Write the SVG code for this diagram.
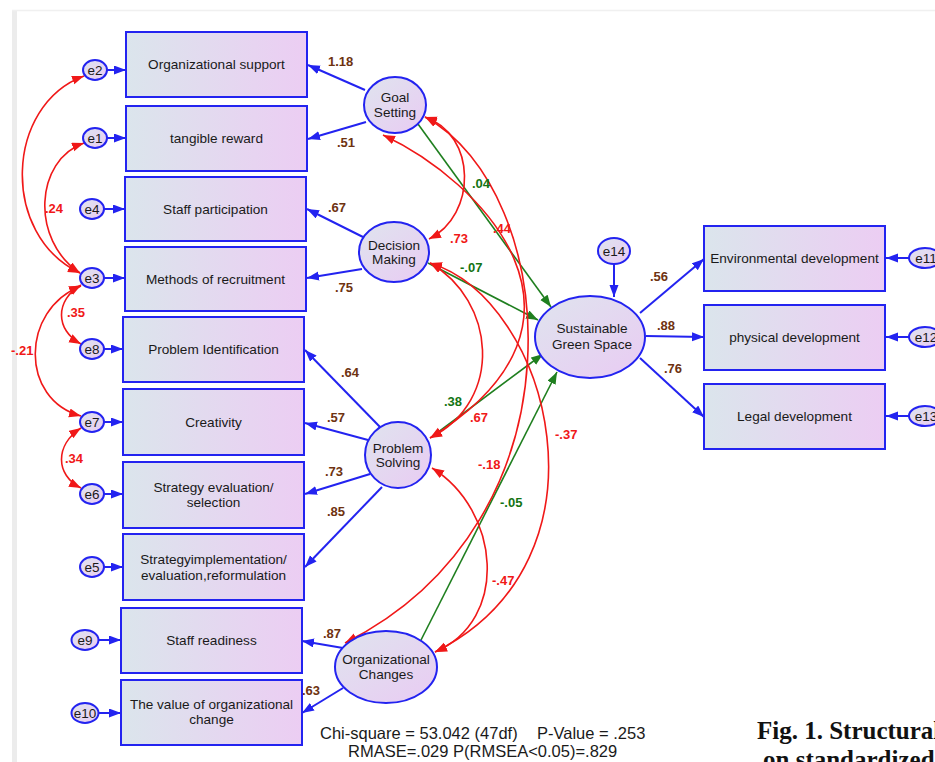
<svg xmlns="http://www.w3.org/2000/svg" width="935" height="762" viewBox="0 0 935 762">
<style>
.bx{stroke:#2323f0;stroke-width:2;fill:url(#gb)}
.lv{stroke:#2323f0;stroke-width:2;fill:url(#ge)}
.er{stroke:#2323f0;stroke-width:2;fill:url(#ge)}
.t{font-family:"Liberation Sans",Arial,sans-serif;font-size:13.6px;fill:#1a1a1a;text-anchor:middle}
.te{font-family:"Liberation Sans",Arial,sans-serif;font-size:13.5px;fill:#1a1a1a;text-anchor:middle}
.lb{font-family:"Liberation Sans",Arial,sans-serif;font-size:13px;font-weight:bold;fill:#6e3210}
.lr{font-family:"Liberation Sans",Arial,sans-serif;font-size:13px;font-weight:bold;fill:#f01818}
.lg{font-family:"Liberation Sans",Arial,sans-serif;font-size:13px;font-weight:bold;fill:#137413}
.pb{stroke:#2323f0;stroke-width:2;fill:none;marker-end:url(#ab)}
.pg{stroke:#1f7f1f;stroke-width:1.6;fill:none;marker-end:url(#ag)}
.pr{stroke:#f01818;stroke-width:1.6;fill:none;marker-start:url(#ar);marker-end:url(#ar)}
.ft{font-family:"Liberation Sans",Arial,sans-serif;font-size:16.5px;fill:#1a1a1a}
.fig{font-family:"Liberation Serif","Times New Roman",serif;font-size:25px;font-weight:bold;fill:#111}
</style>
<defs>
<linearGradient id="gb" x1="0" y1="0" x2="1" y2="0">
<stop offset="0" stop-color="#dbe5ec"/>
<stop offset="1" stop-color="#eccdf3"/>
</linearGradient>
<linearGradient id="ge" x1="0" y1="0" x2="1" y2="1">
<stop offset="0" stop-color="#dfe4ee"/>
<stop offset="1" stop-color="#e9cbf3"/>
</linearGradient>
<marker id="ab" markerUnits="userSpaceOnUse" markerWidth="13" markerHeight="10" refX="12" refY="4.5" orient="auto">
<path d="M0,0 L12,4.5 L0,9 z" fill="#2323f0"/>
</marker>
<marker id="ag" markerUnits="userSpaceOnUse" markerWidth="13" markerHeight="10" refX="12" refY="4.5" orient="auto">
<path d="M0,0 L12,4.5 L0,9 z" fill="#1f7f1f"/>
</marker>
<marker id="ar" markerUnits="userSpaceOnUse" markerWidth="13" markerHeight="10" refX="12" refY="4.5" orient="auto-start-reverse">
<path d="M0,0 L12,4.5 L0,9 z" fill="#f01818"/>
</marker>
</defs>
<rect x="0" y="0" width="935" height="762" fill="#ffffff"/>
<rect x="12" y="10" width="5" height="752" fill="#ececec"/>
<line x1="12" y1="10.5" x2="935" y2="10.5" stroke="#f0f0f0" stroke-width="1.5"/>

<g id="connectors">
<path class="pb" d="M107,70 L126,70"/>
<path class="pb" d="M107,138 L126,138"/>
<path class="pb" d="M104,209 L125,209"/>
<path class="pb" d="M104,278 L125,278"/>
<path class="pb" d="M104,349 L123,349"/>
<path class="pb" d="M104,422 L123,422"/>
<path class="pb" d="M104,494 L123,494"/>
<path class="pb" d="M104,567 L123,567"/>
<path class="pb" d="M99,640 L121,640"/>
<path class="pb" d="M99,713 L121,713"/>
<path class="pb" d="M909,258 L886,258"/>
<path class="pb" d="M909,337 L886,337"/>
<path class="pb" d="M909,416 L886,416"/>
<path class="pb" d="M614,264 L614,297"/>
<path class="pb" d="M365,90 L308,65"/>
<path class="pb" d="M366,122 L308,139"/>
<path class="pb" d="M363,237 L307,209"/>
<path class="pb" d="M362,269 L307,278"/>
<path class="pb" d="M380,427 L305,350"/>
<path class="pb" d="M368,440 L305,423"/>
<path class="pb" d="M370,474 L305,494"/>
<path class="pb" d="M382,487 L305,567"/>
<path class="pb" d="M343,648 L302,641"/>
<path class="pb" d="M343,688 L302,713"/>
<path class="pb" d="M640,313 L704,259"/>
<path class="pb" d="M646,336 L704,337"/>
<path class="pb" d="M640,358 L704,417"/>
<path class="pg" d="M418,124 L551,307"/>
<path class="pg" d="M428,263 L538,320"/>
<path class="pg" d="M433,436 L543,354"/>
<path class="pg" d="M420,642 L557,372"/>
<path class="pr" d="M425,117 C477,135 477,215 429,239"/>
<path class="pr" d="M383,135 C480,180 620,320 430,438"/>
<path class="pr" d="M430,263 C495,300 505,400 430,438"/>
<path class="pr" d="M425,117 C560,190 590,520 345,643"/>
<path class="pr" d="M430,263 C550,300 620,560 435,652"/>
<path class="pr" d="M432,468 C500,510 510,620 435,652"/>
<path class="pr" d="M84,76 C5,105 0,235 80,273"/>
<path class="pr" d="M84,143 C35,160 30,240 80,273"/>
<path class="pr" d="M81,285 C55,300 55,330 81,344"/>
<path class="pr" d="M81,286 C20,310 20,400 81,416"/>
<path class="pr" d="M81,428 C55,445 55,475 81,488"/>
<text class="lb" x="328" y="66">1.18</text>
<text class="lb" x="337" y="147">.51</text>
<text class="lb" x="328" y="212">.67</text>
<text class="lb" x="335" y="292">.75</text>
<text class="lb" x="341" y="377">.64</text>
<text class="lb" x="327" y="422">.57</text>
<text class="lb" x="325" y="476">.73</text>
<text class="lb" x="327" y="516">.85</text>
<text class="lb" x="323" y="638">.87</text>
<text class="lb" x="302" y="695">.63</text>
<text class="lb" x="650" y="281">.56</text>
<text class="lb" x="657" y="330">.88</text>
<text class="lb" x="664" y="373">.76</text>
<text class="lg" x="472" y="188">.04</text>
<text class="lg" x="460" y="272">-.07</text>
<text class="lg" x="444" y="406">.38</text>
<text class="lg" x="500" y="507">-.05</text>
<text class="lr" x="450" y="243">.73</text>
<text class="lr" x="493" y="233">.44</text>
<text class="lr" x="470" y="422">.67</text>
<text class="lr" x="478" y="469">-.18</text>
<text class="lr" x="555" y="439">-.37</text>
<text class="lr" x="492" y="585">-.47</text>
<text class="lr" x="45" y="213">.24</text>
<text class="lr" x="67" y="317">.35</text>
<text class="lr" x="11" y="355">-.21</text>
<text class="lr" x="65" y="463">.34</text>
</g>

<g id="box-org-support"><rect class="bx" x="126" y="32" width="181" height="65"/><text class="t" x="216.5" y="69">Organizational support</text></g>
<g id="box-tangible-reward"><rect class="bx" x="126" y="106" width="181" height="65"/><text class="t" x="216.5" y="143">tangible reward</text></g>
<g id="box-staff-participation"><rect class="bx" x="125" y="177" width="181" height="64"/><text class="t" x="215.5" y="214">Staff participation</text></g>
<g id="box-methods-recruitment"><rect class="bx" x="125" y="247" width="181" height="64"/><text class="t" x="215.5" y="284">Methods of recruitment</text></g>
<g id="box-problem-identification"><rect class="bx" x="123" y="317" width="181" height="65"/><text class="t" x="213.5" y="354">Problem Identification</text></g>
<g id="box-creativity"><rect class="bx" x="123" y="389" width="181" height="66"/><text class="t" x="213.5" y="427">Creativity</text></g>
<g id="box-strategy-evaluation"><rect class="bx" x="123" y="462" width="181" height="66"/><text class="t" x="213.5" y="492">Strategy evaluation/</text><text class="t" x="213.5" y="507">selection</text></g>
<g id="box-strategy-implementation"><rect class="bx" x="123" y="534" width="181" height="66"/><text class="t" x="213.5" y="564">Strategyimplementation/</text><text class="t" x="213.5" y="580">evaluation,reformulation</text></g>
<g id="box-staff-readiness"><rect class="bx" x="121" y="608" width="181" height="65"/><text class="t" x="211.5" y="645">Staff readiness</text></g>
<g id="box-value-org-change"><rect class="bx" x="121" y="680" width="181" height="65"/><text class="t" x="211.5" y="709">The value of organizational</text><text class="t" x="211.5" y="724">change</text></g>
<g id="box-environmental-development"><rect class="bx" x="704" y="226" width="181" height="65"/><text class="t" x="794.5" y="263">Environmental development</text></g>
<g id="box-physical-development"><rect class="bx" x="704" y="305" width="181" height="65"/><text class="t" x="794.5" y="342">physical development</text></g>
<g id="box-legal-development"><rect class="bx" x="704" y="384" width="181" height="65"/><text class="t" x="794.5" y="421">Legal development</text></g>

<g id="lat-goal-setting"><ellipse class="lv" cx="395" cy="105" rx="31" ry="28"/><text class="t" x="395" y="102">Goal</text><text class="t" x="395" y="117">Setting</text></g>
<g id="lat-decision-making"><ellipse class="lv" cx="394" cy="252" rx="35" ry="30"/><text class="t" x="394" y="250">Decision</text><text class="t" x="394" y="264">Making</text></g>
<g id="lat-problem-solving"><ellipse class="lv" cx="398" cy="455" rx="33" ry="33"/><text class="t" x="398" y="453">Problem</text><text class="t" x="398" y="467">Solving</text></g>
<g id="lat-organizational-changes"><ellipse class="lv" cx="386" cy="667" rx="51" ry="36"/><text class="t" x="386" y="664">Organizational</text><text class="t" x="386" y="679">Changes</text></g>
<g id="lat-sustainable-green-space"><ellipse class="lv" cx="590" cy="337" rx="55" ry="41"/><text class="t" x="592" y="333">Sustainable</text><text class="t" x="592" y="349">Green Space</text></g>

<g id="err-e2"><ellipse class="er" cx="95" cy="70" rx="12" ry="10"/><text class="te" x="95" y="75">e2</text></g>
<g id="err-e1"><ellipse class="er" cx="95" cy="138" rx="12" ry="10"/><text class="te" x="95" y="143">e1</text></g>
<g id="err-e4"><ellipse class="er" cx="92" cy="209" rx="12" ry="10"/><text class="te" x="92" y="214">e4</text></g>
<g id="err-e3"><ellipse class="er" cx="92" cy="278" rx="12" ry="10"/><text class="te" x="92" y="283">e3</text></g>
<g id="err-e8"><ellipse class="er" cx="92" cy="349" rx="12" ry="10"/><text class="te" x="92" y="354">e8</text></g>
<g id="err-e7"><ellipse class="er" cx="92" cy="422" rx="12" ry="10"/><text class="te" x="92" y="427">e7</text></g>
<g id="err-e6"><ellipse class="er" cx="92" cy="494" rx="12" ry="10"/><text class="te" x="92" y="499">e6</text></g>
<g id="err-e5"><ellipse class="er" cx="92" cy="567" rx="12" ry="10"/><text class="te" x="92" y="572">e5</text></g>
<g id="err-e9"><ellipse class="er" cx="85" cy="640" rx="13.5" ry="10"/><text class="te" x="85" y="645">e9</text></g>
<g id="err-e10"><ellipse class="er" cx="85" cy="713" rx="13.5" ry="10"/><text class="te" x="85" y="718">e10</text></g>
<g id="err-e14"><ellipse class="er" cx="614" cy="251" rx="16" ry="13"/><text class="te" x="614" y="256">e14</text></g>
<g id="err-e11"><ellipse class="er" cx="925" cy="258" rx="16" ry="10"/><text class="te" x="926" y="263">e11</text></g>
<g id="err-e12"><ellipse class="er" cx="925" cy="337" rx="16" ry="10"/><text class="te" x="926" y="342">e12</text></g>
<g id="err-e13"><ellipse class="er" cx="925" cy="416" rx="16" ry="10"/><text class="te" x="926" y="421">e13</text></g>

<g id="fit-stats">
<text class="ft" x="320" y="739">Chi-square = 53.042 (47df)</text>
<text class="ft" x="537" y="739">P-Value = .253</text>
<text class="ft" x="348" y="757">RMASE=.029 P(RMSEA&lt;0.05)=.829</text>
</g>
<g id="caption">
<text class="fig" x="757" y="739">Fig. 1. Structural</text>
<text class="fig" x="763" y="768">on standardized</text>
</g>
</svg>
